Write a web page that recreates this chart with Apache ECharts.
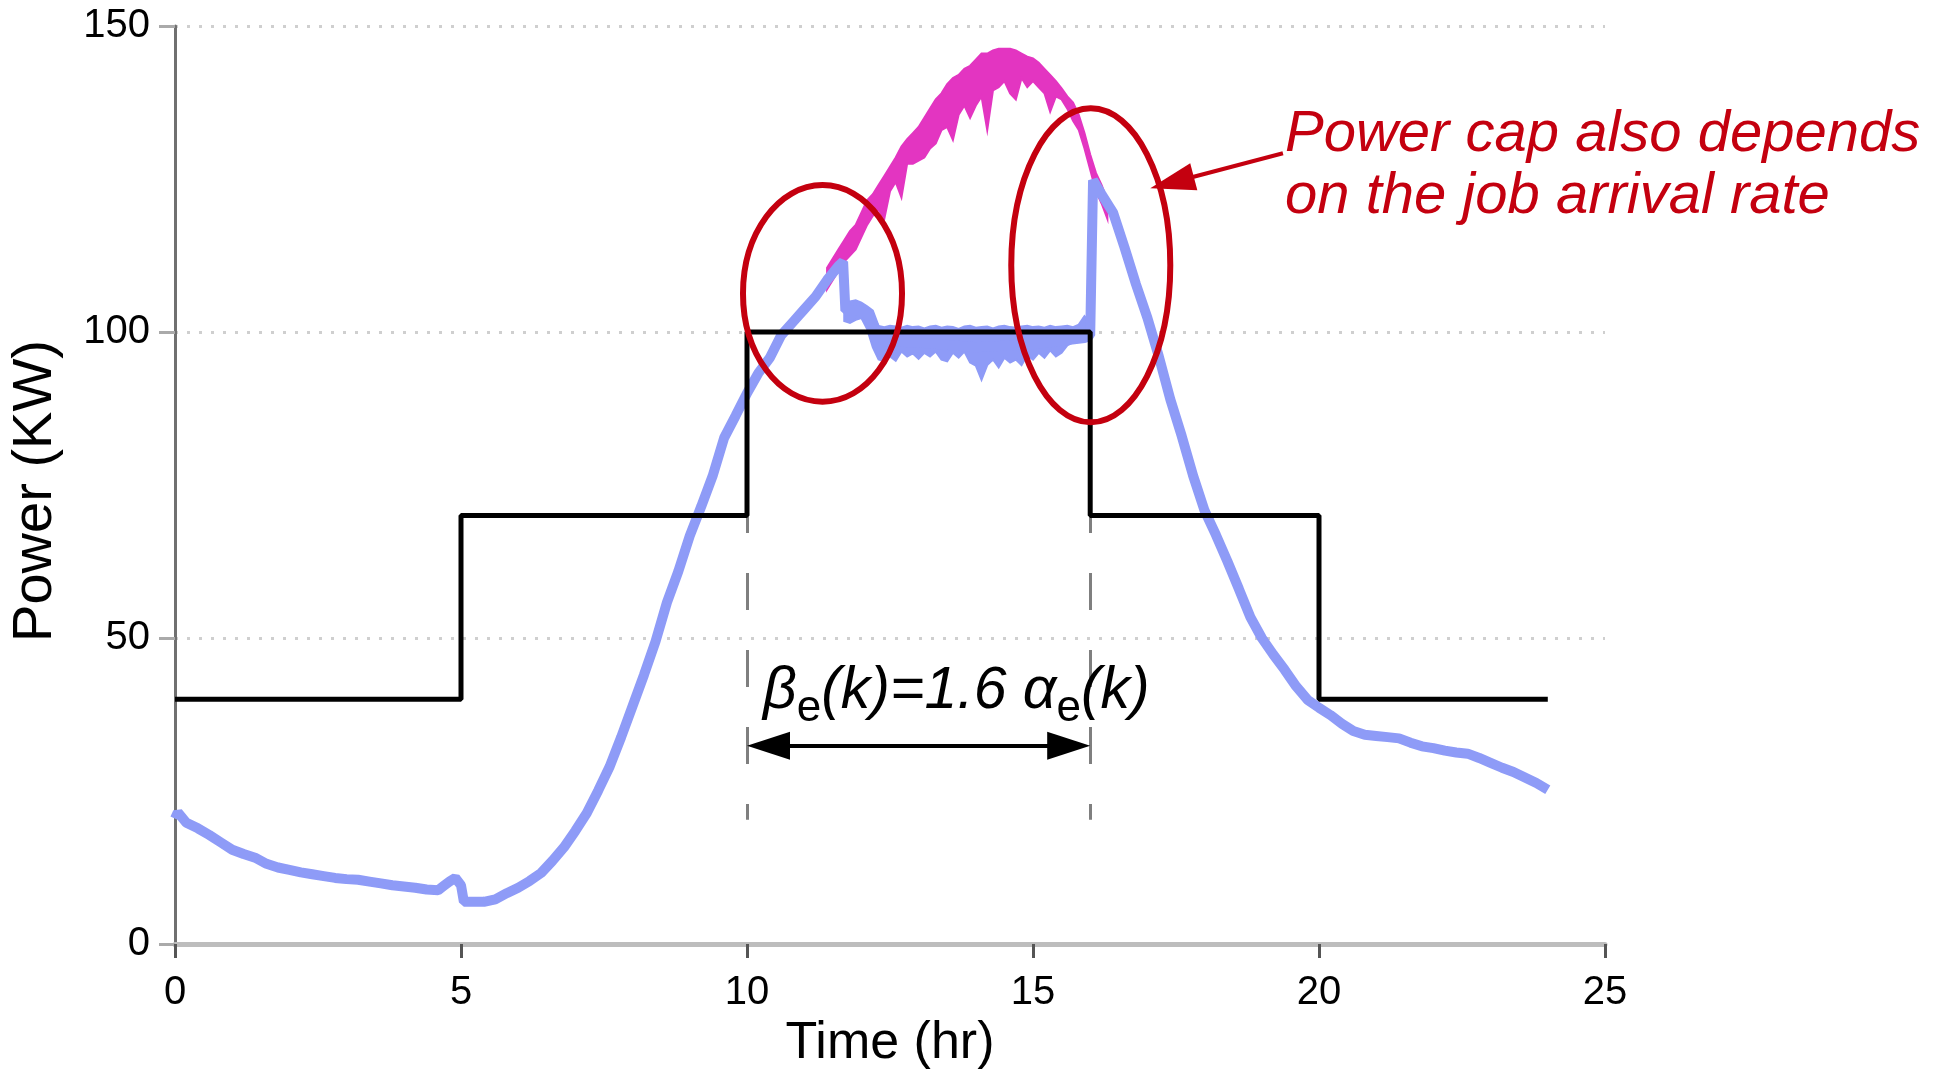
<!DOCTYPE html>
<html><head><meta charset="utf-8">
<script src="https://cdn.jsdelivr.net/npm/echarts@6/dist/echarts.min.js"></script>
<style>html,body{margin:0;padding:0;background:#fff}#c{width:1947px;height:1071px}</style>
</head><body><div id="c"></div>
<script>
// ---- data ----
const capTimes  = [0, 5, 10, 16, 20, 24];
const capValues = [40, 70, 100, 70, 40, 40];

const blueTimes = [0,0.05,0.2,0.4,0.6,0.8,1.0,1.2,1.4,1.6,1.8,2.0,2.2,2.4,2.6,2.8,3.0,3.2,3.4,3.6,3.8,4.0,4.2,4.4,4.6,
  4.7,4.8,4.9,5.0,5.05,
  5.2,5.4,5.6,5.8,6.0,6.2,6.4,6.6,6.8,7.0,7.2,7.4,7.6,7.8,8.0,8.2,8.4,8.6,8.8,9.0,9.2,9.4,9.6,9.8,10.0,10.2,10.4,10.6,10.8,11.0,11.2,11.4,11.6,
  11.68,11.72,11.9,12.1,12.25,12.4,13.0,14.0,15.0,15.9,16.0,16.05,
  16.2,16.4,16.6,16.8,17.0,17.2,17.4,17.6,17.8,18.0,18.2,18.4,18.6,18.8,19.0,19.2,19.4,19.6,19.8,20.0,
  20.2,20.4,20.6,20.8,21.0,21.2,21.4,21.6,21.8,22.0,22.2,22.4,22.6,22.8,23.0,23.2,23.4,23.6,23.8,24.0];
const blueValues = [20.5,21.5,19.8,18.9,17.8,16.6,15.4,14.7,14.1,13.1,12.5,12.1,11.7,11.4,11.1,10.8,10.6,10.5,10.2,9.9,9.6,9.4,9.2,8.9,8.8,
  9.5,10.2,10.8,9.6,6.9,
  6.9,6.9,7.3,8.3,9.2,10.3,11.6,13.6,15.8,18.5,21.4,25.1,29.0,33.8,38.9,44.0,49.4,55.8,60.9,66.7,71.5,76.5,82.7,86.3,90.0,93.3,95.8,99.5,101.6,103.7,105.8,108.5,110.8,
  111.5,103.5,103.6,103.0,100.5,98.5,98.3,97.5,98.0,99.0,99.5,124.8,
  122.5,119.5,113.8,107.8,102.3,96.0,89.0,83.0,76.5,70.8,66.8,62.5,58.0,53.4,50.0,47.3,44.8,42.1,39.9,38.6,
  37.4,36.0,34.8,34.2,34.0,33.8,33.6,32.9,32.3,32.0,31.6,31.3,31.1,30.4,29.6,28.8,28.1,27.2,26.3,25.2];

// capped power: spread of the noisy band
const bandTimes = [11.7,11.8,11.9,12.0,12.1,12.2,12.3,12.4,12.5,12.6,12.7,12.8,12.9,13.0,13.1,13.2,13.3,13.4,13.5,13.6,
  13.7,13.8,13.9,14.0,14.1,14.2,14.3,14.4,14.5,14.6,14.7,14.8,14.9,15.0,15.1,15.2,15.3,15.4,15.5,15.6,15.7,15.8,15.9,16.0];
const bandHigh = [104.5,105,105.2,104.8,104.2,103.5,101,100.8,101,100.9,100.7,101,100.8,100.9,100.6,100.9,101,100.7,100.9,100.8,
  100.5,100.9,101,100.7,100.8,100.9,100.6,100.9,101,100.8,100.7,100.9,101,100.8,100.9,100.7,101,100.8,100.9,101,100.8,101.2,102.6,101.5];
const bandLow = [101.8,101.5,102,102.3,100.5,97.5,95.5,95.2,96,95.3,96.8,96,96.5,95.6,96.6,96,96.8,95.5,95.2,96.6,
  95.8,96.8,95,94.5,92.2,94.6,95.5,94.2,95.8,95,95.5,94.6,96.2,95.5,96.6,95.8,97,96,96.6,97.8,98.3,98.4,98.6,98.6];

// uncapped demand (visible where it exceeds the cap)
const demandTimes = [11.4,11.5,11.6,11.7,11.8,11.9,12.0,12.1,12.2,12.3,12.4,12.5,12.6,12.7,12.8,12.9,13.0,13.1,13.2,13.3,
  13.4,13.5,13.6,13.7,13.8,13.9,14.0,14.1,14.2,14.3,14.4,14.5,14.6,14.7,14.8,14.9,15.0,15.1,15.2,15.3,
  15.4,15.5,15.6,15.7,15.8,15.9,16.0,16.1,16.2,16.3];
const demandHigh = [110.5,112,113.5,115,116.5,117.5,119.5,121.5,122.5,124,125.5,127,128.5,130.3,131.5,132.5,133.5,135,136.5,138,
  139,140.5,141.5,142,143,143.5,144.5,145.5,145.5,146,146.3,146.3,146.3,146,145.5,145,144.7,144,143,142,
  141,139.8,138.5,137.5,135.5,132.5,129,126,124,121.5];
const demandLow = [107,108.5,110,111.5,112.5,113.5,115.5,117.5,119,120,118.5,123,124.5,122,127.5,127.5,128,128.5,130,130.8,
  133,133.5,131.4,135.5,137,135,137,138.5,133,139.5,140,141,139,138,141.5,140,141,140,139,136,
  138.5,138,136.5,134.5,133,130,126.5,123,121,118.5];

// ---- styling ----
const FONT = 'Liberation Sans';
const BLUE = '#8e9bf7';
const MAG = '#e335c1';
const RED = '#c4000f';

const pairs = (ts, vs) => ts.map((t, i) => [t, vs[i]]);

function bandSeries(name, times, lo, hi, color, z) {
  return {
    name, type: 'custom', silent: true, z, clip: true,
    data: times.map((t, i) => [t, lo[i], hi[i]]),
    encode: {x: 0, y: [1, 2]},
    renderItem: (params, api) => {
      if (params.dataIndex !== 0) return null;
      const top = times.map((t, i) => api.coord([t, hi[i]]));
      const bot = times.map((t, i) => api.coord([t, lo[i]])).reverse();
      return {type: 'polygon', shape: {points: top.concat(bot)},
              style: {fill: color, stroke: color, lineWidth: 2}};
    }
  };
}

const chart = echarts.init(document.getElementById('c'), null, {renderer: 'canvas'});

const option = {
  animation: false,
  backgroundColor: '#ffffff',
  grid: {left: 175, top: 26, width: 1430, height: 918, containLabel: false, outerBoundsMode: 'none'},
  xAxis: {
    type: 'value', min: 0, max: 25, interval: 5,
    name: 'Time (hr)', nameLocation: 'middle', nameGap: 72,
    nameTextStyle: {fontFamily: FONT, fontSize: 52, color: '#000'},
    axisLine: {show: true, onZero: false, lineStyle: {color: '#bdbdbd', width: 5}},
    axisTick: {show: true, length: 14, lineStyle: {color: '#555', width: 3}},
    axisLabel: {fontFamily: FONT, fontSize: 40, color: '#000', margin: 29},
    splitLine: {show: false}
  },
  yAxis: {
    type: 'value', min: 0, max: 150, interval: 50,
    name: 'Power (KW)', nameLocation: 'middle', nameRotate: 90, nameGap: 111,
    nameTextStyle: {fontFamily: FONT, fontSize: 56, color: '#000', padding: [0, 12, 0, 0]},
    axisLine: {show: true, lineStyle: {color: '#707070', width: 3}},
    axisTick: {show: true, length: 16, lineStyle: {color: '#aaaaaa', width: 3}},
    axisLabel: {fontFamily: FONT, fontSize: 40, color: '#000', margin: 25},
    splitLine: {show: true, lineStyle: {color: '#cfcfcf', width: 3, type: [3, 9]}}
  },
  series: [
    bandSeries('demand', demandTimes, demandLow, demandHigh, MAG, 2),
    {name: 'capped', type: 'line', data: pairs(blueTimes, blueValues),
     symbol: 'none', silent: true, z: 3, lineStyle: {width: 10, color: BLUE, cap: 'butt'}},
    bandSeries('cappedBand', bandTimes, bandLow, bandHigh, BLUE, 3),
    {name: 'cap', type: 'line', step: 'end', data: pairs(capTimes, capValues),
     symbol: 'none', silent: true, z: 5, lineStyle: {width: 5, color: '#000'},
     markLine: {
       silent: true, animation: false, z: 4, symbol: ['none', 'none'],
       label: {show: false},
       lineStyle: {color: '#7f7f7f', width: 3, type: [37, 40], dashOffset: 67},
       emphasis: {disabled: true},
       data: [
         [{coord: [10, 100]}, {coord: [10, 20.3]}],
         [{coord: [16, 100]}, {coord: [16, 20.3]}],
         [{coord: [10.376, 32.4], symbol: 'triangle', symbolSize: [28, 43], lineStyle: {color: '#000', width: 4, type: 'solid'}},
          {coord: [15.624, 32.4], symbol: 'triangle', symbolSize: [28, 43], lineStyle: {color: '#000', width: 4, type: 'solid'}}]
       ]
     }}
  ]
};
chart.setOption(option);

// ---- annotations placed in data space ----
const P = (t, v) => chart.convertToPixel({gridIndex: 0}, [t, v]);
function ellipse(t, v, dt, dv) {
  const c = P(t, v), e = P(t + dt, v + dv);
  return {type: 'ellipse', z: 20, silent: true,
    shape: {cx: c[0], cy: c[1], rx: Math.abs(e[0] - c[0]), ry: Math.abs(c[1] - e[1])},
    style: {fill: 'none', stroke: RED, lineWidth: 6}};
}
const tail = P(19.37, 129.2), tip = P(17.05, 123.5);
const dx = tip[0] - tail[0], dy = tip[1] - tail[1], len = Math.hypot(dx, dy);
const ux = dx / len, uy = dy / len, nx = -uy, ny = ux;
const headL = 45, headW = 14;
const base = [tip[0] - ux * headL, tip[1] - uy * headL];

chart.setOption({
  graphic: [
    ellipse(11.32, 106.3, 1.39, 17.7),
    ellipse(16.01, 110.9, 1.39, 25.65),
    {type: 'line', z: 20, silent: true,
     shape: {x1: tail[0], y1: tail[1], x2: base[0] + ux * 4, y2: base[1] + uy * 4},
     style: {stroke: RED, lineWidth: 4}},
    {type: 'polygon', z: 20, silent: true,
     shape: {points: [tip, [base[0] + nx * headW, base[1] + ny * headW], [base[0] - nx * headW, base[1] - ny * headW]]},
     style: {fill: RED}},
    {type: 'text', z: 20, silent: true,
     style: {text: 'Power cap also depends\non the job arrival rate', x: 1285, y: 104,
       fill: RED, fontSize: 58, fontStyle: 'italic', fontFamily: FONT, lineHeight: 62,
       align: 'left', verticalAlign: 'top'}},
    {type: 'text', z: 20, silent: true,
     style: {text: '{m|β}{s|e}{m|(k)=1.6 α}{s|e}{m|(k)}', x: 763, y: 731,
       align: 'left', verticalAlign: 'bottom',
       rich: {
         m: {fontSize: 59, fontStyle: 'italic', fontFamily: FONT, fill: '#000', padding: [0, 0, 10, 0], verticalAlign: 'bottom'},
         s: {fontSize: 44, fontStyle: 'normal', fontFamily: FONT, fill: '#000', verticalAlign: 'bottom'}
       }}}
  ]
});
</script></body></html>
